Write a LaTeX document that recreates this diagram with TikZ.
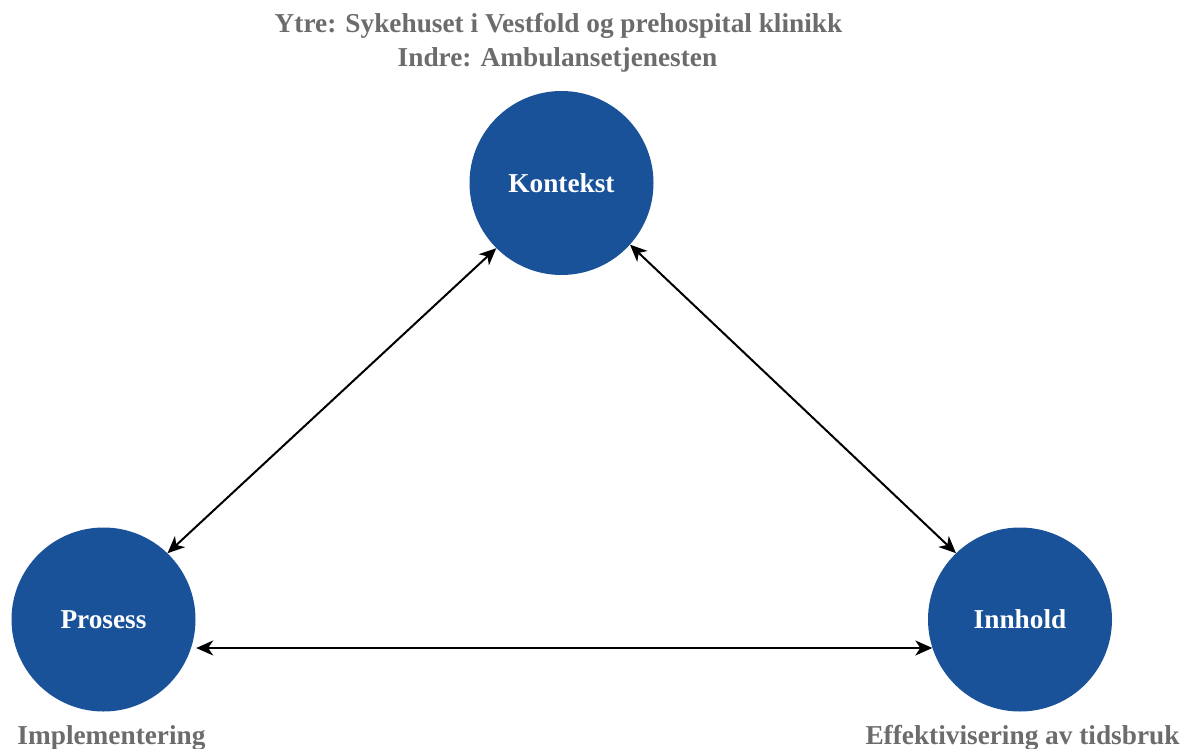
\documentclass[tikz,border=0pt]{standalone}
\usepackage{fontspec}
\setmainfont{Liberation Serif}
\usetikzlibrary{arrows.meta}
\definecolor{nodeblue}{RGB}{26,82,153}
\definecolor{labelgray}{RGB}{108,108,108}
\begin{document}
\begin{tikzpicture}[x=1pt,y=-1pt,
  hub/.style={circle,fill=nodeblue,minimum size=184pt,inner sep=0pt,
    text=white,font=\fontsize{27.3}{32}\selectfont\bfseries},
  caption/.style={text=labelgray,font=\fontsize{27.3}{32}\selectfont\bfseries,
    anchor=base,inner sep=0pt},
  tip/.style={Stealth[length=17pt,width=15pt,inset=5pt]},
  link/.style={{Stealth[length=17pt,width=15pt,inset=5pt]}-{Stealth[length=17pt,width=15pt,inset=5pt]},
    line width=2pt,black}]
\useasboundingbox (0,0) rectangle (1183,749);

% the three circles
\node[hub] (k) at (561.5,183) {Kontekst};
\node[hub] (p) at (103.5,619.5) {Prosess};
\node[hub] (i) at (1020,619.5) {Innhold};

% captions
\node[caption] (outer) at (558.5,33) {Ytre: Sykehuset i Vestfold og prehospital klinikk};
\node[caption] (inner) at (557.5,67) {Indre: Ambulansetjenesten};
\node[caption] (impl) at (111.5,744) {Implementering};
\node[caption] (eff) at (1022.5,744) {Effektivisering av tidsbruk};

% connectors
\draw[link] (k.-135) -- (p.46);
\draw[link] (k.-42) -- (i.134);
\draw[link] ([xshift=5pt]p.-18) -- (i.-162);
\end{tikzpicture}
\end{document}
